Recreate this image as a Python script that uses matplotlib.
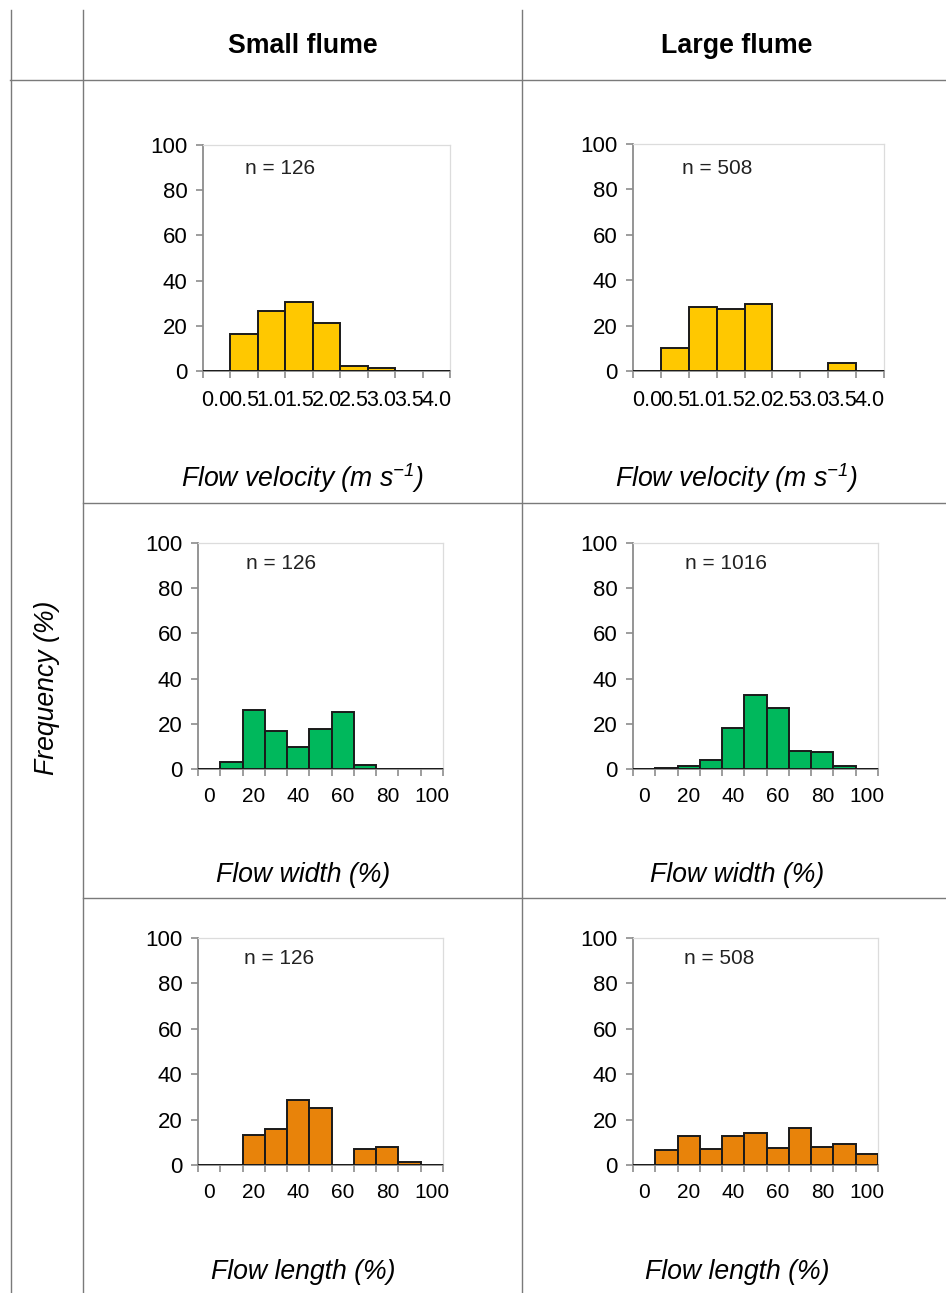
import matplotlib
matplotlib.use("Agg")
import matplotlib.pyplot as plt
from matplotlib.lines import Line2D
import numpy as np

plt.rcParams['font.family'] = ['Liberation Sans', 'DejaVu Sans']
plt.rcParams['mathtext.fontset'] = 'custom'
plt.rcParams['mathtext.rm'] = 'Liberation Sans:italic'
plt.rcParams['mathtext.it'] = 'Liberation Sans:italic'
plt.rcParams['mathtext.default'] = 'it'

# ---------------- data ----------------
velocity_cats = ["0.0", "0.5", "1.0", "1.5", "2.0", "2.5", "3.0", "3.5", "4.0"]
percent_cats = ["0", "10", "20", "30", "40", "50", "60", "70", "80", "90", "100"]

small_velocity = [0, 16.5, 26.6, 30.7, 21.2, 2.0, 1.3, 0, 0]
large_velocity = [0, 10.3, 28.2, 27.1, 29.7, 0, 0, 3.7, 0]

small_width = [0, 3.0, 26.1, 16.8, 9.7, 17.7, 25.3, 1.6, 0, 0, 0]
large_width = [0, 0.4, 1.2, 4.0, 18.2, 32.6, 26.9, 8.1, 7.5, 1.3, 0]

small_length = [0, 0, 13.4, 15.8, 28.6, 25.2, 0, 6.9, 8.0, 1.2, 0]
large_length = [0, 6.8, 12.8, 7.1, 12.7, 14.0, 7.5, 16.2, 7.8, 9.4, 4.7]

n_small = [126, 126, 126]
n_large = [508, 1016, 508]

col_titles = ["Small flume", "Large flume"]
row_titles = ["Flow velocity (m s$^{-1}$)", "Flow width (%)", "Flow length (%)"]
y_title = "Frequency (%)"

colors = ["#FFC800", "#00B85C", "#E8830A"]

# ---------------- figure ----------------
W, H = 946, 1293
fig = plt.figure(figsize=(W / 100, H / 100), dpi=100)
fig.patch.set_facecolor("white")


def rect(l, r, t, b):
    return [l / W, 1 - b / H, (r - l) / W, (b - t) / H]


def fx(px):
    return px / W


def fy(py):
    return 1 - py / H


line_col = "#7a7a7a"
# table lines
fig.add_artist(Line2D([fx(10.5), fx(10.5)], [fy(10), fy(1293)], color=line_col, lw=1.0))
fig.add_artist(Line2D([fx(83), fx(83)], [fy(10), fy(1293)], color=line_col, lw=1.0))
fig.add_artist(Line2D([fx(522), fx(522)], [fy(10), fy(1293)], color=line_col, lw=1.0))
fig.add_artist(Line2D([fx(10), fx(946)], [fy(80), fy(80)], color=line_col, lw=1.0))
fig.add_artist(Line2D([fx(83), fx(946)], [fy(503), fy(503)], color=line_col, lw=1.0))
fig.add_artist(Line2D([fx(83), fx(946)], [fy(898), fy(898)], color=line_col, lw=1.0))

# headers
fig.text(fx(303), fy(46), col_titles[0], ha="center", va="center", fontsize=19.3, fontweight="bold")
fig.text(fx(737), fy(46), col_titles[1], ha="center", va="center", fontsize=19.3, fontweight="bold")
fig.text(fx(47), fy(688), y_title, ha="center", va="center", rotation=90, fontsize=19.2, style="italic")

row_label_y = [478, 875, 1272]
for i, lab in enumerate(row_titles):
    fig.text(fx(303), fy(row_label_y[i]), lab, ha="center", va="center", fontsize=19.2, style="italic")
    fig.text(fx(737), fy(row_label_y[i]), lab, ha="center", va="center", fontsize=19.2, style="italic")

panels = [
    # (rect px l, r, t, b), values, cats, color, n, n-pos
    ((203, 450, 145, 371), small_velocity, velocity_cats, colors[0], n_small[0], (0.31, 0.894), False),
    ((633, 884, 144, 371), large_velocity, velocity_cats, colors[0], n_large[0], (0.337, 0.89), False),
    ((198, 443, 543, 769), small_width, percent_cats, colors[1], n_small[1], (0.337, 0.91), True),
    ((633, 878, 543, 769), large_width, percent_cats, colors[1], n_large[1], (0.38, 0.91), True),
    ((198, 443, 938, 1165), small_length, percent_cats, colors[2], n_small[2], (0.33, 0.91), True),
    ((633, 878, 938, 1165), large_length, percent_cats, colors[2], n_large[2], (0.35, 0.91), True),
]

for (l, r, t, b), vals, cats, col, n, npos, skip in panels:
    ax = fig.add_axes(rect(l, r, t, b))
    x = np.arange(len(cats))
    ax.bar(x, vals, width=1.0, color=col, edgecolor="#1a1a1a", linewidth=1.4, zorder=3)
    ax.set_xlim(-0.5, len(cats) - 0.5)
    ax.set_ylim(0, 100)
    ax.set_yticks(np.arange(0, 101, 20))
    ax.tick_params(axis="y", labelsize=16, length=5, width=1.2, color="#8c8c8c", pad=6)
    # boundaries as major ticks, labels at minor ticks (category centres)
    ax.set_xticks(np.arange(len(cats) + 1) - 0.5)
    ax.set_xticklabels([])
    ax.set_xticks(x, minor=True)
    if skip:
        labs = [c if i % 2 == 0 else "" for i, c in enumerate(cats)]
        ax.set_xticklabels(labs, minor=True)
        ax.tick_params(axis="x", which="minor", length=0, labelsize=15, pad=13)
    else:
        ax.set_xticklabels(cats, minor=True)
        ax.tick_params(axis="x", which="minor", length=0, labelsize=15.5, pad=14)
    ax.tick_params(axis="x", which="major", length=5, width=1.2, color="#8c8c8c")
    for s in ["left", "bottom"]:
        ax.spines[s].set_color("#8c8c8c")
        ax.spines[s].set_linewidth(1.3)
    for s in ["top", "right"]:
        ax.spines[s].set_color("#dcdcdc")
        ax.spines[s].set_linewidth(0.9)
    ax.text(npos[0], npos[1], f"n = {n}", transform=ax.transAxes, ha="center", va="center",
            fontsize=15, color="#222222")

fig.savefig("out.png", dpi=100, facecolor="white")
